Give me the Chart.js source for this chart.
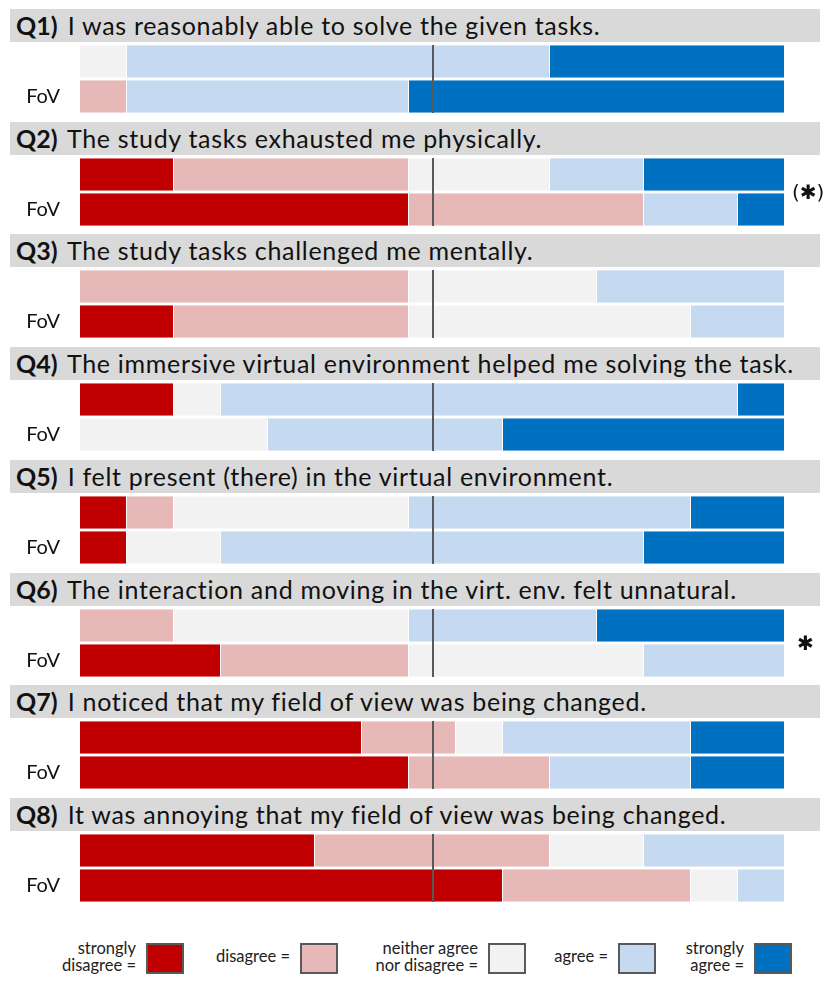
<!DOCTYPE html>
<html lang="en">
<head>
    <meta charset="UTF-8">
    <title>FoV questionnaire</title>
    <script src="https://cdn.jsdelivr.net/npm/chart.js"></script>
    <style>
        body {
            margin: 0;
            background: #fff;
            font-family: 'Lato', 'Open Sans', sans-serif;
        }
        #page {
            position: relative;
            width: 830px;
            height: 990px;
        }
        .qhead {
            position: absolute;
            left: 10px;
            width: 804px;
            height: 33px;
            line-height: 33px;
            padding-left: 6px;
            background: #d9d9d9;
            font-size: 25px;
            letter-spacing: 0.7px;
            color: #111;
            white-space: nowrap;
        }
        .qhead b { margin-right: 3px; letter-spacing: 0; }
        .qchart {
            position: absolute;
            left: 0;
            width: 830px;
            height: 70px;
        }
        .qchart canvas { display: block; }
        .star {
            position: absolute;
            font-family: 'DejaVu Sans', sans-serif;
            font-size: 20px;
            color: #111;
            line-height: 24px;
        }
        .leg-text {
            position: absolute;
            font-size: 16.5px;
            line-height: 17px;
            color: #222;
            text-align: right;
            white-space: nowrap;
        }
        .leg-box {
            position: absolute;
            top: 943px;
            width: 34px;
            height: 27px;
            border: 2px solid #595959;
        }
    </style>
</head>
<body>
<div id="page"></div>

<script>
    // question headers
    const qNumbers = ['Q1)', 'Q2)', 'Q3)', 'Q4)', 'Q5)', 'Q6)', 'Q7)', 'Q8)'];
    const qTexts = [
        'I was reasonably able to solve the given tasks.',
        'The study tasks exhausted me physically.',
        'The study tasks challenged me mentally.',
        'The immersive virtual environment helped me solving the task.',
        'I felt present (there) in the virtual environment.',
        'The interaction and moving in the virt. env. felt unnatural.',
        'I noticed that my field of view was being changed.',
        'It was annoying that my field of view was being changed.'
    ];
    const rowLabels = ['', 'FoV'];
    const significance = ['', '(\u2731)', '', '', '', '\u2731', '', ''];

    // answer counts, pairs per question: [baseline, FoV]
    const stronglyDisagree = [0,0, 2,7, 0,2, 2,0, 1,1, 0,3, 6,7, 5,9];
    const disagree         = [0,1, 5,5, 7,5, 0,0, 1,0, 2,4, 2,3, 5,4];
    const neutral          = [1,0, 3,0, 4,6, 1,4, 5,2, 5,5, 1,0, 2,1];
    const agree            = [9,6, 2,2, 4,2, 11,5, 6,9, 4,3, 4,3, 3,1];
    const stronglyAgree    = [5,8, 3,1, 0,0, 1,6, 2,3, 4,0, 2,2, 0,0];
    const participants = 15;

    const levelNames = ['strongly disagree', 'disagree', 'neither agree nor disagree', 'agree', 'strongly agree'];
    const legendLines = [['strongly', 'disagree ='], ['disagree ='], ['neither agree', 'nor disagree ='], ['agree ='], ['strongly', 'agree =']];
    const levelColors = ['#c00000', '#e6b8b7', '#f2f2f2', '#c5d9f1', '#0070c0'];
    const levelData = [stronglyDisagree, disagree, neutral, agree, stronglyAgree];

    const page = document.getElementById('page');

    // median line through the middle of the scale
    const centerLine = {
        id: 'centerLine',
        afterDatasetsDraw(chart) {
            const { ctx, chartArea, scales } = chart;
            const x = Math.round(scales.x.getPixelForValue(participants / 2));
            ctx.save();
            ctx.strokeStyle = '#595959';
            ctx.lineWidth = 2;
            ctx.beginPath();
            ctx.moveTo(x, chartArea.top + 1);
            ctx.lineTo(x, chartArea.bottom - 1);
            ctx.stroke();
            ctx.restore();
        }
    };

    qNumbers.forEach((num, i) => {
        const top = Math.round(9 + i * 112.7);

        const head = document.createElement('div');
        head.className = 'qhead';
        head.style.top = top + 'px';
        head.innerHTML = '<b>' + num + '</b> ' + qTexts[i];
        page.appendChild(head);

        const wrap = document.createElement('div');
        wrap.className = 'qchart';
        wrap.style.top = (top + 35) + 'px';
        const canvas = document.createElement('canvas');
        canvas.width = 830;
        canvas.height = 70;
        wrap.appendChild(canvas);
        page.appendChild(wrap);

        if (significance[i]) {
            const s = document.createElement('div');
            s.className = 'star';
            s.textContent = significance[i];
            s.style.top = (top + 35 + 35 - 12) + 'px';
            s.style.left = (significance[i].length > 1 ? 792 : 797) + 'px';
            page.appendChild(s);
        }

        new Chart(canvas, {
            type: 'bar',
            data: {
                labels: rowLabels,
                datasets: levelData.map((arr, k) => ({
                    label: levelNames[k],
                    data: [arr[i * 2], arr[i * 2 + 1]],
                    backgroundColor: levelColors[k],
                    borderColor: 'rgba(255,255,255,0.8)',
                    borderWidth: { right: 1 },
                    borderSkipped: false,
                    categoryPercentage: 1,
                    barPercentage: 0.93
                }))
            },
            options: {
                indexAxis: 'y',
                responsive: false,
                animation: false,
                layout: { padding: { left: 0, right: 45, top: 0, bottom: 0 } },
                plugins: {
                    legend: { display: false },
                    tooltip: { enabled: false }
                },
                scales: {
                    x: {
                        stacked: true,
                        min: 0,
                        max: participants,
                        display: false
                    },
                    y: {
                        stacked: true,
                        grid: { display: false, drawTicks: false },
                        border: { display: false },
                        afterFit(scale) {
                            // fixed label column, no extra vertical padding from the tick font
                            scale.width = 80;
                            scale.paddingTop = 0;
                            scale.paddingBottom = 0;
                        },
                        ticks: {
                            padding: 20,
                            color: '#111',
                            font: { family: 'Lato', size: 20 }
                        }
                    }
                }
            },
            plugins: [centerLine]
        });
    });

    // legend
    const boxLeft = [146, 300, 488, 618, 754];
    legendLines.forEach((lines, k) => {
        const t = document.createElement('div');
        t.className = 'leg-text';
        t.innerHTML = lines.join('<br>');
        t.style.right = (830 - boxLeft[k] + 10) + 'px';
        t.style.top = (lines.length > 1 ? 940 : 948) + 'px';
        page.appendChild(t);

        const b = document.createElement('div');
        b.className = 'leg-box';
        b.style.left = boxLeft[k] + 'px';
        b.style.background = levelColors[k];
        page.appendChild(b);
    });
</script>
</body>
</html>
